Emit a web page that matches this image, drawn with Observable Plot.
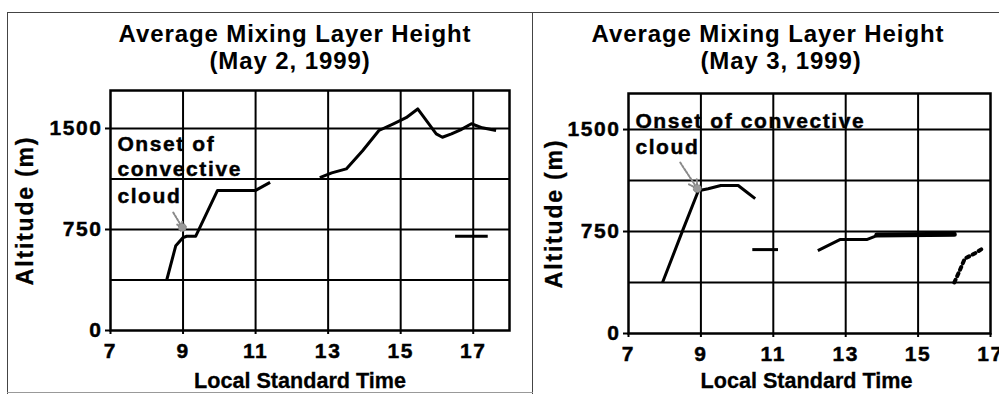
<!DOCTYPE html>
<html><head><meta charset="utf-8">
<script src="https://cdn.jsdelivr.net/npm/d3@7"></script>
<script src="https://cdn.jsdelivr.net/npm/@observablehq/plot@0.6"></script>
<style>
body{margin:0;background:#fff;}
#root{position:relative;width:999px;height:394px;overflow:hidden;font-family:"Liberation Sans",Arial,sans-serif;background:#fff;}
.tl{position:absolute;width:440px;text-align:center;font-weight:bold;font-size:24px;line-height:27px;letter-spacing:0.9px;color:#000;white-space:nowrap;}
.bd{position:absolute;background:#444;}
.pn{position:absolute;}
</style></head>
<body><div id="root"></div>
<script>
// ---- data ----
const titles = ["Average Mixing Layer Height", "(May 2, 1999)", "(May 3, 1999)"];
const xLabel = "Local Standard Time";
const yLabel = "Altitude (m)";
const yTicks = [0, 750, 1500];
const yGrid = [375, 750, 1125, 1500];
const xTicksMay2 = [7, 9, 11, 13, 15, 17];
const xTicksMay3 = [7, 9, 11, 13, 15, 17];

// May 2, 1999 (segment id separates broken pieces)
const may2Time = [8.55, 8.8, 9.0, 9.1, 9.35, 9.95, 11.0, 11.4,
                  12.77, 13.1, 13.5, 13.95, 14.4, 14.8, 15.15, 15.47, 15.98, 16.15, 16.4, 16.65, 16.95, 17.25, 17.63,
                  16.5, 17.4];
const may2Alt  = [375, 630, 690, 700, 700, 1040, 1040, 1100,
                  1135, 1170, 1200, 1335, 1485, 1535, 1580, 1645, 1460, 1435, 1460, 1490, 1535, 1505, 1485,
                  700, 700];
const may2Seg  = [1,1,1,1,1,1,1,1, 2,2,2,2,2,2,2,2,2,2,2,2,2,2,2, 3,3];

// May 3, 1999
const may3Time = [7.94, 8.5, 8.93, 9.2, 9.55, 10.03, 10.28, 10.5,
                  10.42, 11.13,
                  12.23, 12.84, 13.58, 13.86, 16.0];
const may3Alt  = [375, 760, 1050, 1065, 1088, 1088, 1037, 992,
                  617, 617,
                  610, 691, 691, 720, 728];
const may3Seg  = [1,1,1,1,1,1,1,1, 2,2, 3,3,3,3,3];
const may3ThickTime = [13.86, 16.0];
const may3ThickAlt  = [724, 730];
const may3DotTime = [16.0, 16.15, 16.29, 16.56, 16.78];
const may3DotAlt  = [375, 463, 551, 588, 625];

// annotations ("Onset of convective cloud")
const may2Notes = ["Onset of", "convective", "cloud"];
const may2NoteTime = [7.19, 7.19, 7.19];
const may2NoteAlt = [1384, 1199, 1000];
const may2Arrow = {t1: 8.73, a1: 876, t2: 8.98, a2: 765};
const may3Notes = ["Onset of convective", "cloud"];
const may3NoteTime = [7.19, 7.19];
const may3NoteAlt = [1564, 1368];
const may3Arrow = {t1: 8.43, a1: 1257, t2: 8.9, a2: 1066};

const FONT = '"Liberation Sans", Arial, sans-serif';

function rows(t, a, s) { return t.map((v, i) => ({t: v, a: a[i], s: s ? s[i] : 0})); }

function panel(cfg) {
  const marks = [
    Plot.ruleX(cfg.xGrid, {stroke: "#000", strokeWidth: 2}),
    Plot.ruleY(yGrid, {stroke: "#000", strokeWidth: 2}),
    Plot.frame({stroke: "#000", strokeWidth: 2.5}),
    Plot.axisX({ticks: cfg.xTicks, tickSize: 4, tickPadding: 9, label: null, strokeWidth: 2, fontSize: 21, tickFormat: d => String(d)}),
    Plot.axisY({ticks: yTicks, tickSize: 5, tickPadding: 3, label: null, strokeWidth: 2, fontSize: 21, tickFormat: d => String(d)}),
    Plot.line(cfg.line, {x: "t", y: "a", z: "s", stroke: "#000", strokeWidth: 3, strokeLinejoin: "round", strokeLinecap: "butt"}),
    ...cfg.extra,
    Plot.arrow([cfg.arrow], {x1: "t1", y1: "a1", x2: "t2", y2: "a2", stroke: "#8a8a8a", strokeWidth: 2, strokeDasharray: "2,1.5", headLength: 7}),
    Plot.dot([cfg.arrow], {x: "t2", y: "a2", r: 4, fill: "#9a9a9a", stroke: "#777", strokeWidth: 1, strokeDasharray: "1.5,1"}),
    Plot.text(cfg.notes, {x: "t", y: "a", text: "s", textAnchor: "start", lineAnchor: "middle", fontSize: 21, fontWeight: "bold", fill: "#000"}),
    Plot.text([xLabel], {frameAnchor: "bottom", text: d => d, textAnchor: "middle", lineAnchor: "middle", dx: cfg.xlDx, dy: cfg.xlDy, fontSize: 21.6, fontWeight: "bold", fill: "#000"}),
    Plot.text([yLabel], {frameAnchor: "left", text: d => d, rotate: -90, textAnchor: "middle", lineAnchor: "middle", dx: cfg.ylDx, fontSize: 23, fontWeight: "bold", fill: "#000"})
  ];
  const svg = Plot.plot({
    width: cfg.width, height: 314,
    marginLeft: cfg.ml, marginRight: cfg.mr, marginTop: cfg.mt, marginBottom: cfg.mb,
    style: {fontFamily: FONT, fontSize: "21px", fontWeight: "bold", color: "#000", background: "transparent", overflow: "visible"},
    x: {domain: cfg.xDomain},
    y: {domain: [0, cfg.yMax]},
    marks
  });
  const sel = d3.select(svg).selectAll("text");
  sel.style("font-weight", "bold").style("letter-spacing", "1.6px")
     .style("stroke", "#000").style("stroke-width", "0.45px");
  sel.filter(function () { return this.textContent === xLabel; }).style("letter-spacing", "0px").style("stroke-width", "0.3px");
  sel.filter(function () { return this.textContent === yLabel; }).style("letter-spacing", "1.8px").style("stroke-width", "0.3px");
  return svg;
}

const root = document.getElementById("root");
function addDiv(cls, css, text) {
  const d = document.createElement("div");
  d.className = cls;
  Object.assign(d.style, css);
  if (text != null) d.textContent = text;
  root.appendChild(d);
  return d;
}

// panel borders
addDiv("bd", {left: "7px", top: "12px", width: "1px", height: "382px"});
addDiv("bd", {left: "7px", top: "12px", width: "992px", height: "1px"});
addDiv("bd", {left: "532px", top: "12px", width: "1px", height: "382px"});
addDiv("bd", {left: "7px", top: "392px", width: "526px", height: "1px", background: "#999"});

// titles
addDiv("tl", {left: (295 - 220) + "px", top: "20px"}, titles[0]);
addDiv("tl", {left: (290 - 220) + "px", top: "47px"}, titles[1]);
addDiv("tl", {left: (768 - 220) + "px", top: "20px"}, titles[0]);
addDiv("tl", {left: (781 - 220) + "px", top: "47px"}, titles[2]);

const left = panel({
  width: 532, ml: 110, mr: 23, mt: 10, mb: 64, yMax: 1782,
  xDomain: [7, 18], xTicks: xTicksMay2, xGrid: [9, 11, 13, 15, 17],
  line: rows(may2Time, may2Alt, may2Seg),
  extra: [],
  arrow: may2Arrow,
  notes: rows(may2NoteTime, may2NoteAlt, may2Notes),
  xlDx: -10, xlDy: 51, ylDx: -85
});
const lp = addDiv("pn", {left: "0px", top: "80px"});
lp.appendChild(left);

const right = panel({
  width: 466, ml: 95, mr: 9, mt: 13, mb: 61, yMax: 1765,
  xDomain: [7, 17], xTicks: xTicksMay3, xGrid: [9, 11, 13, 15],
  line: rows(may3Time, may3Alt, may3Seg),
  extra: [
    Plot.line(rows(may3ThickTime, may3ThickAlt), {x: "t", y: "a", stroke: "#000", strokeWidth: 5}),
    Plot.line(rows(may3DotTime, may3DotAlt), {x: "t", y: "a", stroke: "#000", strokeWidth: 4, strokeDasharray: "3,4"})
  ],
  arrow: may3Arrow,
  notes: rows(may3NoteTime, may3NoteAlt, may3Notes),
  xlDx: -3, xlDy: 48, ylDx: -74
});
const rp = addDiv("pn", {left: "533px", top: "80px"});
rp.appendChild(right);
</script>
</body></html>
